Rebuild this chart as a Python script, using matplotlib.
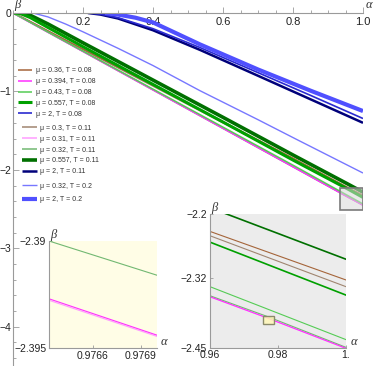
import numpy as np
import matplotlib.pyplot as plt
from matplotlib.patches import Rectangle
from matplotlib.ticker import FixedLocator, MultipleLocator

plt.rcParams['font.family'] = ['Liberation Sans', 'DejaVu Sans']

# alpha grid shared by the mu < 1 curves
alpha_low = [0, 0.02, 0.05, 0.1, 0.2, 0.4, 0.6, 0.8, 0.96, 0.97633, 0.977, 1.0]

beta_036_008 = [0, -0.04, -0.11, -0.228, -0.46, -0.92, -1.385, -1.85, -2.2325, -2.2695, -2.2710, -2.3231]
beta_0394_008 = [0, -0.049, -0.1225, -0.245, -0.49, -0.98, -1.47, -1.96, -2.3544, -2.3927, -2.3944, -2.4506]
beta_043_008 = [0, -0.047, -0.12, -0.242, -0.485, -0.97, -1.455, -1.94, -2.3356, -2.3759, -2.3776, -2.4344]
beta_0557_008 = [0, -0.005, -0.06, -0.185, -0.43, -0.91, -1.39, -1.875, -2.2525, -2.2928, -2.2945, -2.3513]
beta_03_011 = [0, -0.045, -0.115, -0.232, -0.466, -0.932, -1.40, -1.866, -2.2406, -2.2794, -2.2810, -2.3356]
beta_031_011 = [0, -0.049, -0.1226, -0.2452, -0.4905, -0.981, -1.4715, -1.962, -2.3546, -2.39277, -2.39446, -2.4508]
beta_032_011 = [0, -0.048, -0.122, -0.245, -0.49, -0.98, -1.47, -1.96, -2.3525, -2.3900, -2.3916, -2.4488]
beta_0557_011 = [0, 0, -0.03, -0.14, -0.38, -0.855, -1.33, -1.81, -2.1883, -2.2275, -2.2291, -2.2844]

# mu = 2 and T = 0.2 curves start later, each with its own alpha list
alpha_2_008 = [0.22, 0.25, 0.3, 0.4, 0.534, 0.7, 0.85, 1.0]
beta_2_008 = [0, -0.015, -0.06, -0.20, -0.44, -0.76, -1.05, -1.345]
alpha_2_011 = [0.214, 0.25, 0.3, 0.4, 0.534, 0.7, 0.85, 1.0]
beta_2_011 = [0, -0.02, -0.07, -0.22, -0.47, -0.80, -1.10, -1.40]
alpha_032_02 = [0.057, 0.1, 0.15, 0.2, 0.3, 0.4, 0.534, 0.7, 0.814, 1.0]
beta_032_02 = [0, -0.05, -0.14, -0.24, -0.45, -0.67, -0.99, -1.36, -1.62, -2.04]
alpha_2_02 = [0.263, 0.3, 0.35, 0.4, 0.534, 0.7, 0.85, 1.0]
beta_2_02 = [0, -0.02, -0.06, -0.12, -0.40, -0.72, -0.99, -1.25]

labels_008 = ['μ = 0.36, T = 0.08', 'μ = 0.394, T = 0.08', 'μ = 0.43, T = 0.08',
              'μ = 0.557, T = 0.08', 'μ = 2, T = 0.08']
labels_011 = ['μ = 0.3, T = 0.11', 'μ = 0.31, T = 0.11', 'μ = 0.32, T = 0.11',
              'μ = 0.557, T = 0.11', 'μ = 2, T = 0.11']
labels_02 = ['μ = 0.32, T = 0.2', 'μ = 2, T = 0.2']

curves_008 = [(alpha_low, beta_036_008, '#a5653a', 1.1),
              (alpha_low, beta_0394_008, '#ff30ff', 1.1),
              (alpha_low, beta_043_008, '#55cc55', 1.1),
              (alpha_low, beta_0557_008, '#00a000', 2.2),
              (alpha_2_008, beta_2_008, '#2a2ad0', 1.2)]
curves_011 = [(alpha_low, beta_03_011, '#a08570', 1.1),
              (alpha_low, beta_031_011, '#ff9cff', 1.1),
              (alpha_low, beta_032_011, '#72b872', 1.1),
              (alpha_low, beta_0557_011, '#007000', 2.6),
              (alpha_2_011, beta_2_011, '#00007a', 1.8)]
curves_02 = [(alpha_032_02, beta_032_02, '#7777ff', 1.0),
             (alpha_2_02, beta_2_02, '#5050ff', 3.0)]

# drawing order: T = 0.11 first so the T = 0.08 lines sit on top
draw_order = [(curves_011, labels_011), (curves_008, labels_008), (curves_02, labels_02)]

fig = plt.figure(figsize=(3.76, 3.66), dpi=100)
ax = fig.add_axes([13/376, 0, 350/376, 353/366])

handles = {}
for curves, labels in draw_order:
    for (a, b, c, lw), lab in zip(curves, labels):
        ln, = ax.plot(a, b, color=c, lw=lw, label=lab, solid_capstyle='butt')
        handles[lab] = ln

ax.set_xlim(0, 1.0)
ax.set_ylim(-4.5, 0)
gray = '#9a9a9a'
for s in ['top', 'right']:
    ax.spines[s].set_visible(False)
ax.spines['bottom'].set_position(('data', 0))
ax.spines['left'].set_position(('data', 0))
for s in ['bottom', 'left']:
    ax.spines[s].set_color(gray)
    ax.spines[s].set_linewidth(0.8)
ax.xaxis.set_major_locator(FixedLocator([0.2, 0.4, 0.6, 0.8, 1.0]))
ax.xaxis.set_minor_locator(MultipleLocator(0.05))
ax.set_xticklabels(['0.2', '0.4', '0.6', '0.8', '1.0'])
ax.yaxis.set_major_locator(FixedLocator([0, -1, -2, -3, -4]))
ax.yaxis.set_minor_locator(MultipleLocator(0.2))
ax.set_yticklabels(['0', '−1', '−2', '−3', '−4'])
ax.tick_params(which='both', direction='in', color=gray, width=0.6, labelsize=8, labelcolor='#222222')
ax.tick_params(which='major', length=4)
ax.tick_params(which='minor', length=2)
ax.tick_params(axis='x', pad=3)
ax.tick_params(axis='y', pad=1, labelsize=7.5)
ax.patch.set_visible(False)

lab_font = dict(family=['Liberation Serif', 'DejaVu Serif'], style='italic', size=9, color='#333333')
ax.text(0.004, 0.03, 'β', ha='left', va='bottom', **lab_font)
ax.text(1.008, 0.02, 'α', ha='left', va='bottom', **lab_font)

# zoom marker on the main plot
ax.add_patch(Rectangle((0.935, -2.51), 0.065, 0.28, facecolor=(0.85, 0.85, 0.85, 0.55),
                       edgecolor='#7a7a7a', lw=1.2, zorder=5))

# legends, three groups
leg_kw = dict(frameon=False, fontsize=5, loc='upper left', borderpad=0, borderaxespad=0,
              handlelength=2.1, handletextpad=0.5, labelspacing=0.55, labelcolor='#333333')
leg1 = ax.legend([handles[l] for l in labels_008], labels_008, bbox_to_anchor=(0.014, 0.846), **leg_kw)
ax.add_artist(leg1)
leg2 = ax.legend([handles[l] for l in labels_011], labels_011, bbox_to_anchor=(0.026, 0.683), **leg_kw)
ax.add_artist(leg2)
ax.legend([handles[l] for l in labels_02], labels_02, bbox_to_anchor=(0.026, 0.519),
          **dict(leg_kw, labelspacing=0.9))


def style_inset(axi, face):
    axi.set_facecolor(face)
    for s in ['top', 'right']:
        axi.spines[s].set_visible(False)
    for s in ['bottom', 'left']:
        axi.spines[s].set_color(gray)
        axi.spines[s].set_linewidth(0.8)
    axi.tick_params(direction='in', length=2.5, color=gray, width=0.6, labelsize=7.5,
                    labelcolor='#222222', pad=2)


# right inset
axr = fig.add_axes([210/376, 18/366, 136/376, 134/366])
for curves, labels in draw_order:
    for a, b, c, lw in curves:
        axr.plot(a, b, color=c, lw=0.8 if lw < 2 else 1.2)
axr.set_xlim(0.96, 1.0)
axr.set_ylim(-2.45, -2.2)
style_inset(axr, '#ececec')
axr.xaxis.set_major_locator(FixedLocator([0.96, 0.98, 1.0]))
axr.set_xticklabels(['0.96', '0.98', '1.'])
axr.yaxis.set_major_locator(FixedLocator([-2.45, -2.32, -2.2]))
axr.set_yticklabels(['−2.45', '−2.32', '−2.2'])
axr.tick_params(axis='x', pad=1.5)
axr.add_patch(Rectangle((0.9755, -2.4055), 0.0034, 0.0149, facecolor=(1, 0.97, 0.72, 0.85),
                        edgecolor='#8a8a6a', lw=1.0, zorder=5))
axr.text(0.9605, -2.2, 'β', ha='left', va='bottom', **lab_font)
axr.text(1.0015, -2.45, 'α', ha='left', va='bottom', **lab_font)

# left inset
axl = fig.add_axes([49/376, 18/366, 108/376, 107/366])
for curves, labels in draw_order[:2]:
    for a, b, c, lw in curves:
        axl.plot(a, b, color=c, lw=0.8)
axl.set_xlim(0.97633, 0.977)
axl.set_ylim(-2.395, -2.39)
style_inset(axl, '#fffde6')
axl.xaxis.set_major_locator(FixedLocator([0.9766, 0.9769]))
axl.set_xticklabels(['0.9766', '0.9769'])
axl.yaxis.set_major_locator(FixedLocator([-2.395, -2.39]))
axl.set_yticklabels(['−2.395', '−2.39'])
axl.text(0.976335, -2.39, 'β', ha='left', va='bottom', **lab_font)
axl.text(0.977025, -2.395, 'α', ha='left', va='bottom', **lab_font)

fig.savefig('out.png', dpi=100)
